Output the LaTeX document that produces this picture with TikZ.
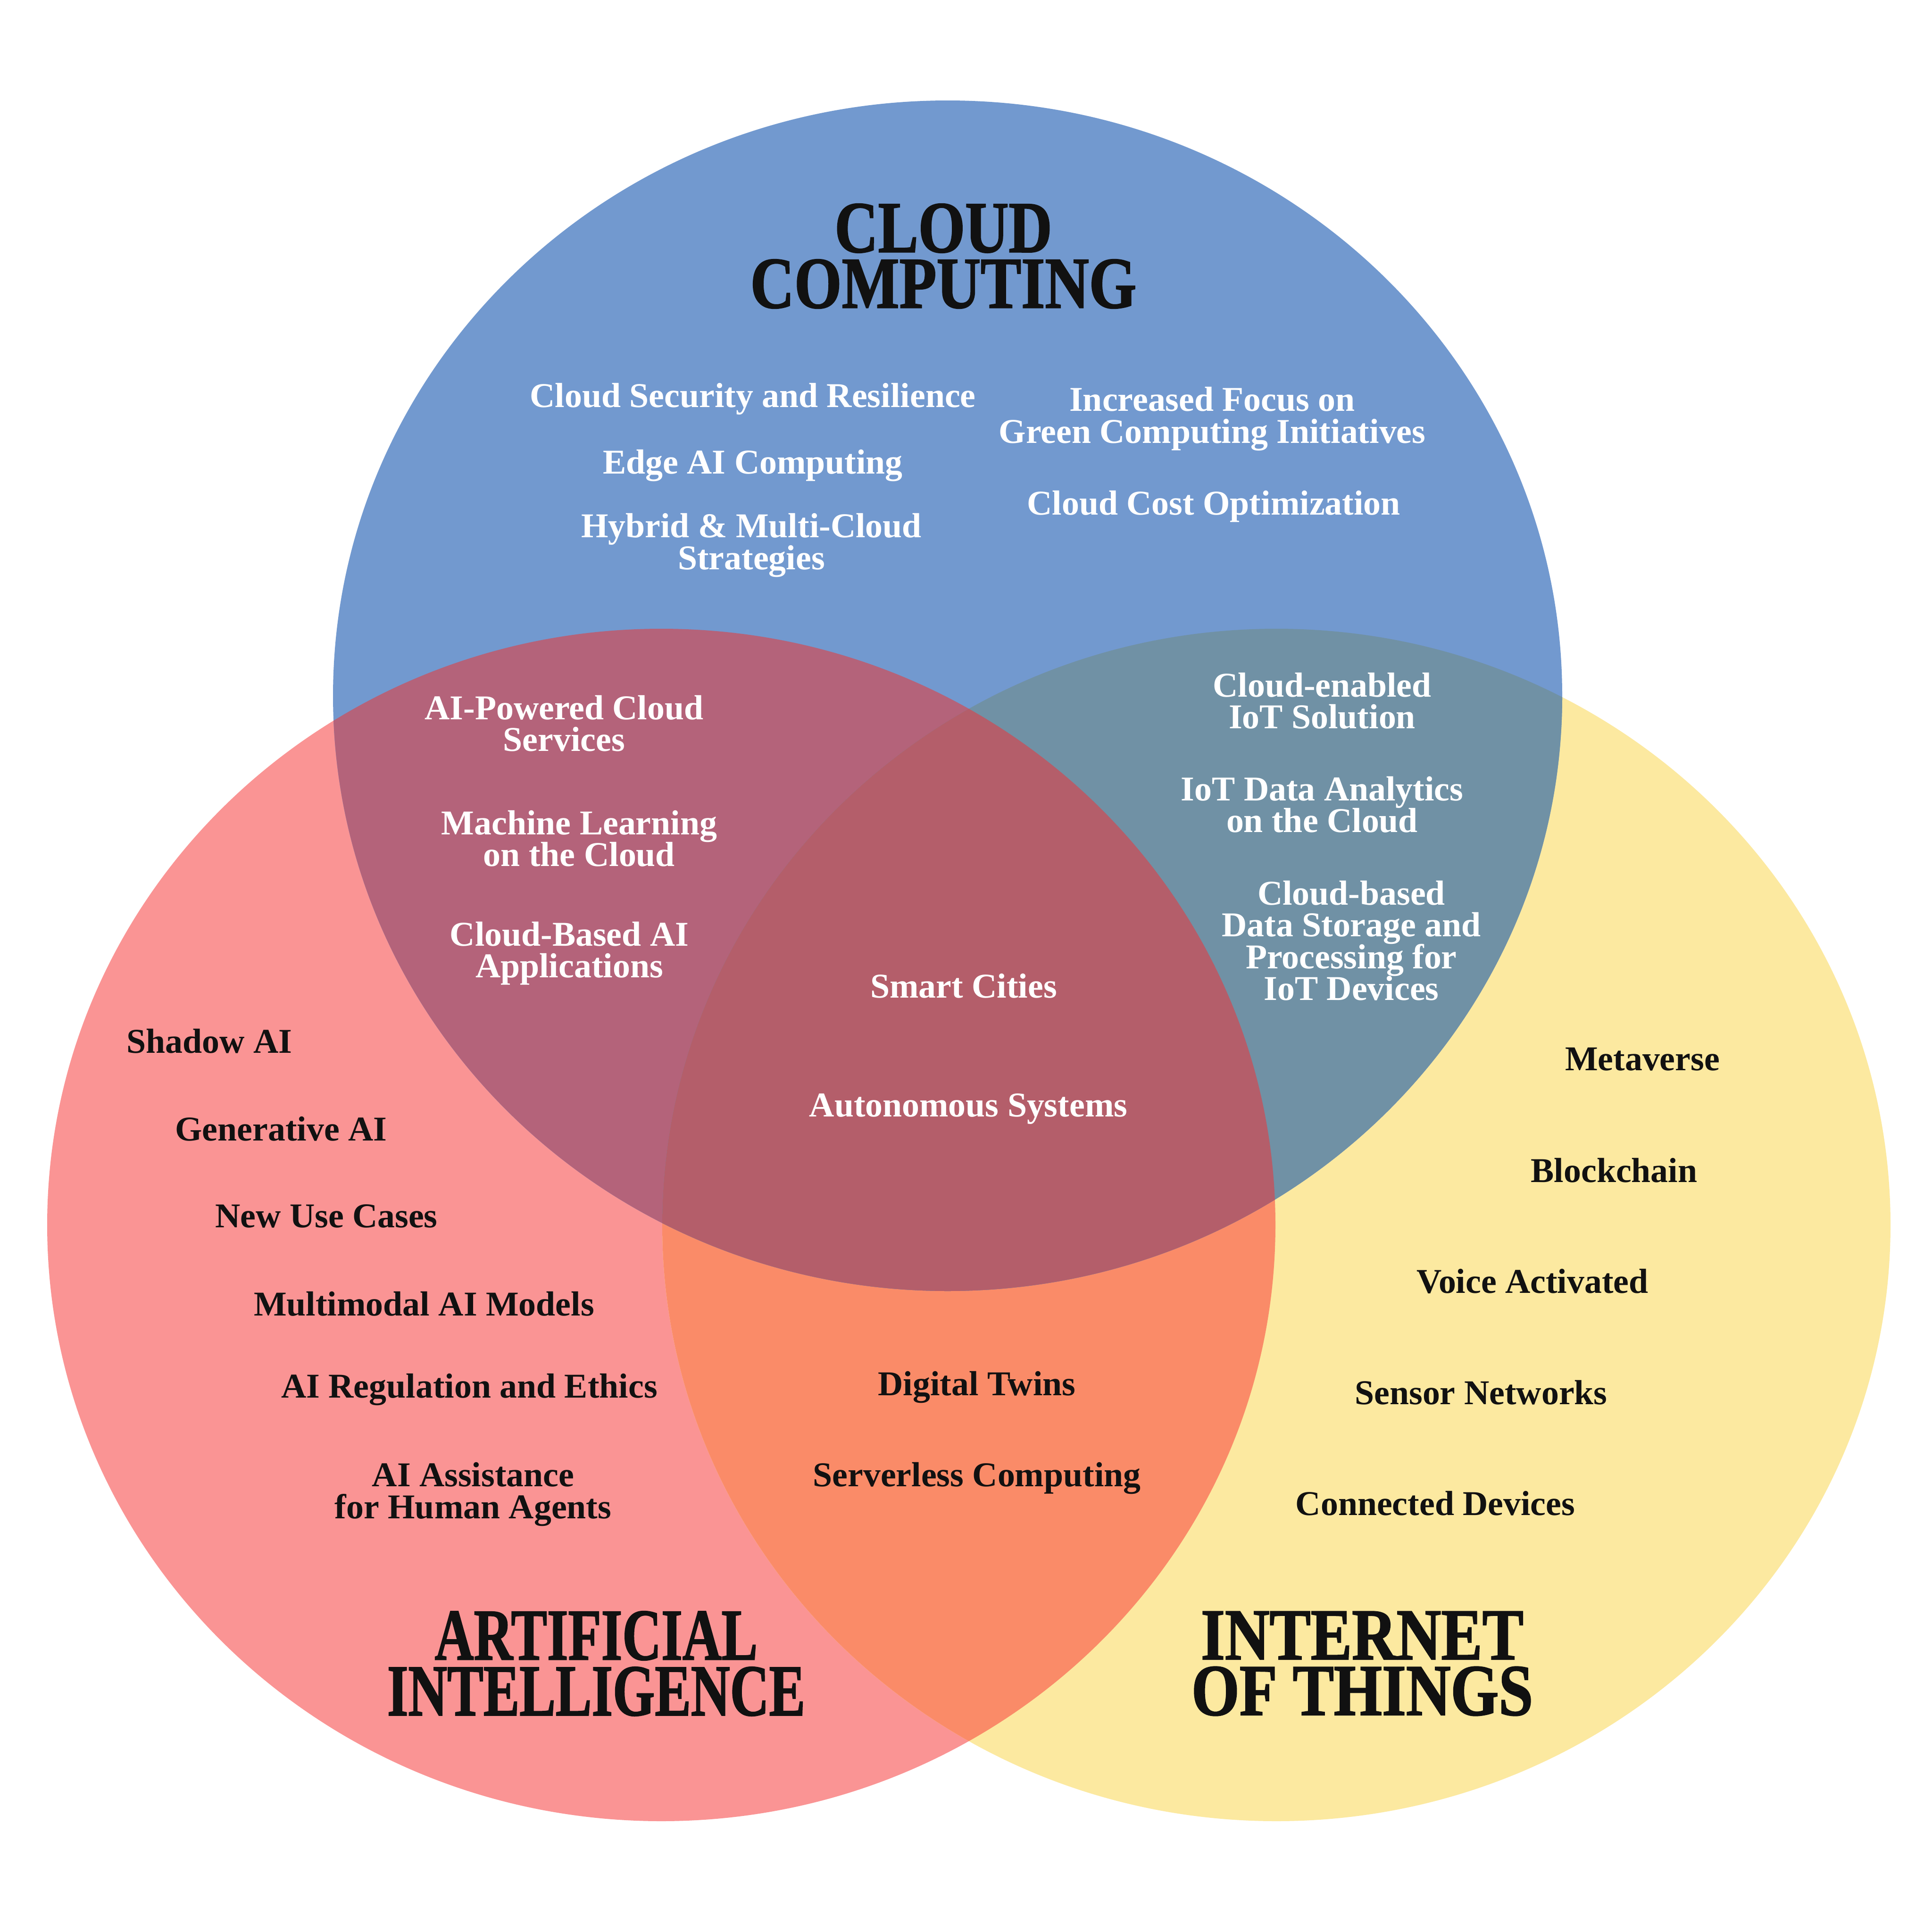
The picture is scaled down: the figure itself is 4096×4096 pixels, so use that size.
\documentclass[tikz,border=0pt]{standalone}
\usepackage{fontspec}
\setmainfont{Liberation Serif}
\newfontfamily\headfont{Liberation Serif}[FakeBold=1.6]

\definecolor{cBlue}{HTML}{7299CF}
\definecolor{cRed}{HTML}{FA9494}
\definecolor{cYel}{HTML}{FCE9A0}
\definecolor{cRB}{HTML}{B4637A}
\definecolor{cBY}{HTML}{7091A5}
\definecolor{cRY}{HTML}{FA8B68}
\definecolor{cAll}{HTML}{B45E6A}
\definecolor{ink}{HTML}{111111}

% the three sets
\def\cloudset{(2009,1475) ellipse [x radius=130.3mm, y radius=126.2mm]}
\def\aiset{(1402,2597) ellipse [x radius=130.2mm, y radius=126.4mm]}
\def\iotset{(2706,2597) ellipse [x radius=130.2mm, y radius=126.4mm]}

% condensed title line
\newcommand\tline[2]{\scalebox{#1}[1]{#2}}

\tikzset{
  lab/.style={font=\bfseries\fontsize{21}{19.2}\selectfont, align=center, inner sep=0pt},
  wlab/.style={lab, text=white},
  blab/.style={lab, text=ink},
  title/.style={font=\headfont\bfseries\fontsize{44}{33.6}\selectfont,
    text=ink, align=center, inner sep=0pt},
}

\begin{document}
\setlength{\lineskiplimit}{-30pt}%
\begin{tikzpicture}[x=0.1mm, y=-0.1mm]
\useasboundingbox[fill=white] (0,0) rectangle (4096,4096);

% regions
\fill[cRed] \aiset;
\fill[cYel] \iotset;
\begin{scope}
  \clip \aiset;
  \fill[cRY] \iotset;
\end{scope}
\fill[cBlue] \cloudset;
\begin{scope}
  \clip \cloudset;
  \fill[cRB] \aiset;
  \fill[cBY] \iotset;
  \clip \aiset;
  \fill[cAll] \iotset;
\end{scope}

% set titles
\node[title] (cc) at (2000,543) {\tline{0.826}{CLOUD}\\\tline{0.836}{COMPUTING}};
\node[title] (ai) at (1264,3527) {\tline{0.742}{ARTIFICIAL}\\\tline{0.742}{INTELLIGENCE}};
\node[title] (iot) at (2888,3527) {\tline{0.847}{INTERNET}\\\tline{0.847}{OF THINGS}};

% cloud computing only
\node[wlab] (sec) at (1596,846) {Cloud Security and Resilience};
\node[wlab] (edge) at (1596,987) {Edge AI Computing};
\node[wlab] (hyb) at (1593,1156) {Hybrid \& Multi-Cloud\\Strategies};
\node[wlab] (green) at (2570,888) {Increased Focus on\\Green Computing Initiatives};
\node[wlab] (cost) at (2573,1074) {Cloud Cost Optimization};

% cloud and AI
\node[wlab] (aipow) at (1196,1534) {AI-Powered Cloud\\Services};
\node[wlab] (ml) at (1228,1778) {Machine Learning\\on the Cloud};
\node[wlab] (cbai) at (1207,2021) {Cloud-Based AI\\Applications};

% cloud and IoT
\node[wlab] (ciot) at (2803,1486) {Cloud-enabled\\IoT Solution};
\node[wlab] (iotda) at (2803,1706) {IoT Data Analytics\\on the Cloud};
\node[wlab] (cbd) at (2865,1994) {Cloud-based\\Data Storage and\\Processing for\\IoT Devices};

% all three
\node[wlab] (smart) at (2043,2090) {Smart Cities};
\node[wlab] (auto) at (2053,2351) {Autonomous Systems};

% AI only
\node[blab] (shadow) at (444,2207) {Shadow AI};
\node[blab] (gen) at (596,2393) {Generative AI};
\node[blab] (newuse) at (692,2578) {New Use Cases};
\node[blab] (multi) at (899,2764) {Multimodal AI Models};
\node[blab] (reg) at (995,2946) {AI Regulation and Ethics};
\node[blab] (assist) at (1003,3168) {AI Assistance\\for Human Agents};

% AI and IoT
\node[blab] (twins) at (2071,2941) {Digital Twins};
\node[blab] (srvless) at (2071,3134) {Serverless Computing};

% IoT only
\node[blab] (meta) at (3482,2246) {Metaverse};
\node[blab] (block) at (3422,2481) {Blockchain};
\node[blab] (voice) at (3249,2716) {Voice Activated};
\node[blab] (sensor) at (3140,2952) {Sensor Networks};
\node[blab] (conn) at (3043,3187) {Connected Devices};
\end{tikzpicture}
\end{document}
